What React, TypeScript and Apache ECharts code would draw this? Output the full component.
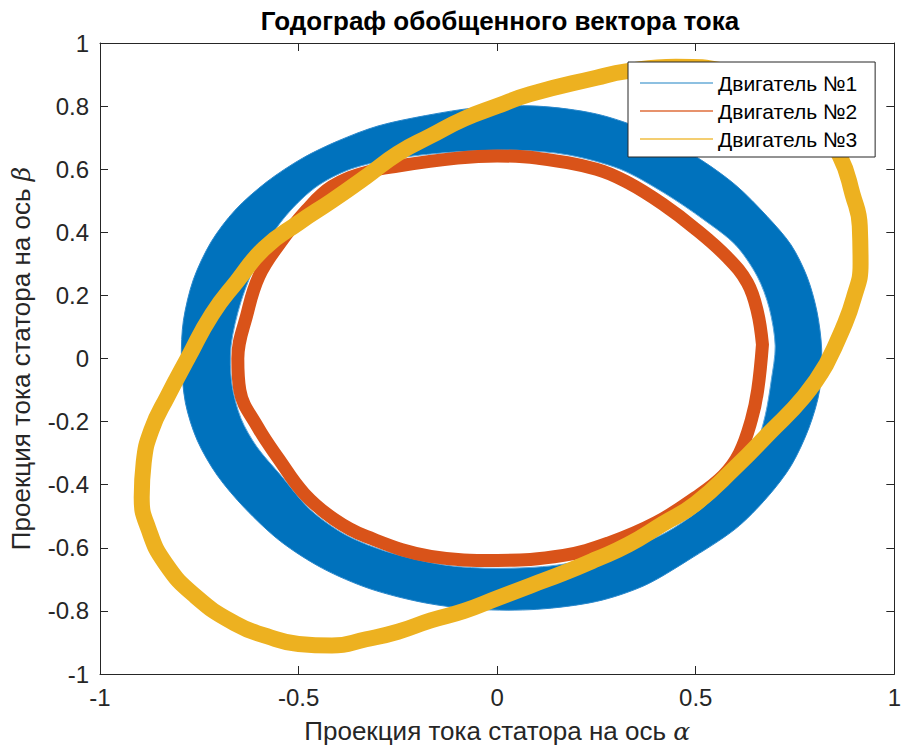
import React, { useEffect, useRef } from "react";
import * as echarts from "echarts";

const TITLE = "Годограф обобщенного вектора тока";
const X_NAME = "Проекция тока статора на ось ";
const Y_NAME = "Проекция тока статора на ось ";
const SERIES_NAMES = ["Двигатель №1", "Двигатель №2", "Двигатель №3"];
const COLORS = ["#0072BD", "#D95319", "#EDB120"];
const X_RANGE = [-1, 1, 0.5];
const Y_RANGE = [-1, 1, 0.2];

// Motor 1: thick band (many overlapping loops) — outer and inner edge of the band
const blueOuter: number[][] = [
  [0.812, -0.1], [0.817, 0.03], [0.805, 0.15], [0.78, 0.26], [0.74, 0.36], [0.68, 0.45],
  [0.6, 0.55], [0.5, 0.64], [0.38, 0.72], [0.25, 0.775], [0.1, 0.8], [-0.05, 0.795],
  [-0.18, 0.77], [-0.3, 0.737], [-0.4, 0.69], [-0.49, 0.635], [-0.58, 0.56], [-0.66, 0.47],
  [-0.72, 0.37], [-0.765, 0.25], [-0.79, 0.12], [-0.795, 0], [-0.785, -0.14], [-0.755, -0.26],
  [-0.705, -0.37], [-0.635, -0.475], [-0.545, -0.58], [-0.44, -0.665], [-0.32, -0.73],
  [-0.18, -0.775], [-0.05, -0.795], [0.1, -0.795], [0.25, -0.77], [0.37, -0.72],
  [0.48, -0.64], [0.6, -0.54], [0.68, -0.44], [0.74, -0.34], [0.785, -0.22],
];
const blueInner: number[][] = [
  [0.7, 0.04], [0.685, 0.16], [0.655, 0.26], [0.6, 0.36], [0.52, 0.44], [0.42, 0.525],
  [0.31, 0.6], [0.18, 0.645], [0.05, 0.66], [-0.1, 0.655], [-0.25, 0.635], [-0.37, 0.6],
  [-0.46, 0.54], [-0.54, 0.44], [-0.6, 0.32], [-0.645, 0.18], [-0.67, 0.04], [-0.668, -0.08],
  [-0.645, -0.19], [-0.605, -0.28], [-0.545, -0.37], [-0.47, -0.48], [-0.38, -0.56],
  [-0.27, -0.615], [-0.13, -0.655], [0, -0.665], [0.15, -0.655], [0.3, -0.615],
  [0.42, -0.555], [0.52, -0.47], [0.6, -0.37], [0.65, -0.28], [0.675, -0.18], [0.69, -0.07],
];

// Motor 2
const redLoop: number[][] = [
  [0.668, 0.044], [0.655, 0.15], [0.63, 0.24], [0.58, 0.32], [0.5, 0.41], [0.416, 0.49],
  [0.33, 0.557], [0.25, 0.6], [0.1, 0.635], [0, 0.642], [-0.1, 0.635], [-0.25, 0.61],
  [-0.33, 0.59], [-0.416, 0.545], [-0.48, 0.47], [-0.55, 0.36], [-0.6, 0.26], [-0.63, 0.14],
  [-0.653, 0], [-0.648, -0.1], [-0.603, -0.217], [-0.549, -0.32], [-0.486, -0.428],
  [-0.41, -0.51], [-0.33, -0.564], [-0.167, -0.627], [0, -0.64], [0.167, -0.624],
  [0.28, -0.585], [0.4, -0.52], [0.5, -0.44], [0.57, -0.37], [0.61, -0.3], [0.64, -0.195],
  [0.656, -0.1], [0.668, 0.044],
];

// Motor 3
const yellowLoop: number[][] = [
  [0.828, -0.02], [0.868, 0.088], [0.898, 0.192], [0.915, 0.3], [0.913, 0.42], [0.895, 0.52],
  [0.863, 0.641], [0.8, 0.76], [0.7, 0.86], [0.58, 0.91], [0.45, 0.925], [0.324, 0.91],
  [0.25, 0.89], [0.083, 0.838], [0, 0.8], [-0.083, 0.76], [-0.167, 0.706], [-0.25, 0.65],
  [-0.33, 0.576], [-0.416, 0.5], [-0.5, 0.43], [-0.586, 0.35], [-0.655, 0.245],
  [-0.718, 0.14], [-0.778, 0.003], [-0.83, -0.12], [-0.87, -0.225], [-0.89, -0.33],
  [-0.895, -0.44], [-0.878, -0.54], [-0.835, -0.65], [-0.76, -0.753], [-0.66, -0.84],
  [-0.58, -0.88], [-0.5, -0.905], [-0.416, -0.91], [-0.33, -0.89], [-0.25, -0.866],
  [-0.167, -0.83], [-0.083, -0.8], [0, -0.76], [0.083, -0.72], [0.167, -0.68],
  [0.25, -0.636], [0.33, -0.59], [0.416, -0.525], [0.5, -0.46], [0.6, -0.345],
  [0.686, -0.235], [0.773, -0.12], [0.828, -0.02],
];

const FONT = "'Liberation Sans', Arial, Helvetica, sans-serif";
const AXIS_GRAY = "#262626";

export default function App() {
  const ref = useRef<HTMLDivElement>(null);
  useEffect(() => {
    document.body.style.margin = "0";
    const chart = echarts.init(ref.current!, null, { renderer: "svg" });
    const axisCommon = {
      type: "value" as const,
      splitLine: { show: false },
      axisLine: { show: true, onZero: false, lineStyle: { color: AXIS_GRAY, width: 1 } },
      axisTick: { show: true, inside: true, length: 8, lineStyle: { color: AXIS_GRAY } },
    };
    const labelStyle = { color: AXIS_GRAY, fontSize: 24, fontFamily: FONT };
    const greek = { fontStyle: "italic" as const, fontFamily: "'DejaVu Serif', serif", fontSize: 25, color: AXIS_GRAY };
    const nameStyle = { color: AXIS_GRAY, fontSize: 26, fontFamily: FONT, rich: { g: greek } };
    chart.setOption({
      animation: false,
      backgroundColor: "#fff",
      graphic: [
        {
          type: "text",
          x: 500,
          y: 8,
          style: {
            text: TITLE,
            font: `bold 26px ${FONT}`,
            fill: "#000",
            textAlign: "center",
            textVerticalAlign: "top",
          },
        },
      ],
      grid: { left: 99, right: 3, top: 43, bottom: 71 },
      legend: {
        orient: "vertical",
        left: 628,
        top: 62,
        padding: [9, 18, 6, 12],
        backgroundColor: "#fff",
        borderColor: AXIS_GRAY,
        borderWidth: 1,
        borderRadius: 0,
        itemWidth: 73,
        itemHeight: 1.5,
        itemGap: 4,
        icon: "rect",
        textStyle: { fontFamily: FONT, fontSize: 21, color: "#000", lineHeight: 24 },
        data: SERIES_NAMES.map((n, i) => ({ name: n, itemStyle: { color: COLORS[i], opacity: i === 0 ? 0.6 : 0.85 } })),
      },
      xAxis: [
        {
          ...axisCommon,
          min: X_RANGE[0], max: X_RANGE[1], interval: X_RANGE[2],
          position: "bottom",
          axisLabel: { ...labelStyle, margin: 11 },
          name: X_NAME + "{g|α}",
          nameLocation: "middle",
          nameGap: 44,
          nameTextStyle: nameStyle,
        },
        {
          ...axisCommon,
          min: X_RANGE[0], max: X_RANGE[1], interval: X_RANGE[2],
          position: "top",
          axisLabel: { show: false },
        },
      ],
      yAxis: [
        {
          ...axisCommon,
          min: Y_RANGE[0], max: Y_RANGE[1], interval: Y_RANGE[2],
          position: "left",
          axisLabel: { ...labelStyle, margin: 11 },
          name: Y_NAME + "{g|β}",
          nameLocation: "middle",
          nameGap: 66,
          nameRotate: 90,
          nameTextStyle: nameStyle,
        },
        {
          ...axisCommon,
          min: Y_RANGE[0], max: Y_RANGE[1], interval: Y_RANGE[2],
          position: "right",
          axisLabel: { show: false },
        },
      ],
      series: [
        {
          name: SERIES_NAMES[0],
          type: "custom",
          coordinateSystem: "cartesian2d",
          xAxisIndex: 0,
          yAxisIndex: 0,
          itemStyle: { color: COLORS[0] },
          data: [[0, 0]],
          clip: true,
          renderItem: (_params: any, api: any) => {
            const outer = blueOuter.map((p) => api.coord(p));
            const inner = blueInner.map((p) => api.coord(p));
            return {
              type: "group",
              children: [
                { type: "polygon", shape: { points: outer, smooth: 0.3 }, style: { fill: COLORS[0], stroke: "#2a88cc", lineWidth: 1 } },
                { type: "polygon", shape: { points: inner, smooth: 0.3 }, style: { fill: "#fff", stroke: "#5aa6dc", lineWidth: 1 } },
              ],
            };
          },
        },
        {
          name: SERIES_NAMES[1],
          type: "line",
          data: redLoop,
          smooth: 0.4,
          showSymbol: false,
          symbol: "none",
          itemStyle: { color: COLORS[1] },
          lineStyle: { color: COLORS[1], width: 13, cap: "round", join: "round" },
        },
        {
          name: SERIES_NAMES[2],
          type: "line",
          data: yellowLoop,
          smooth: 0.5,
          showSymbol: false,
          symbol: "none",
          itemStyle: { color: COLORS[2] },
          lineStyle: { color: COLORS[2], width: 16, cap: "round", join: "round" },
        },
      ],
    });
    return () => chart.dispose();
  }, []);
  return <div ref={ref} style={{ width: 904, height: 749 }} />;
}
